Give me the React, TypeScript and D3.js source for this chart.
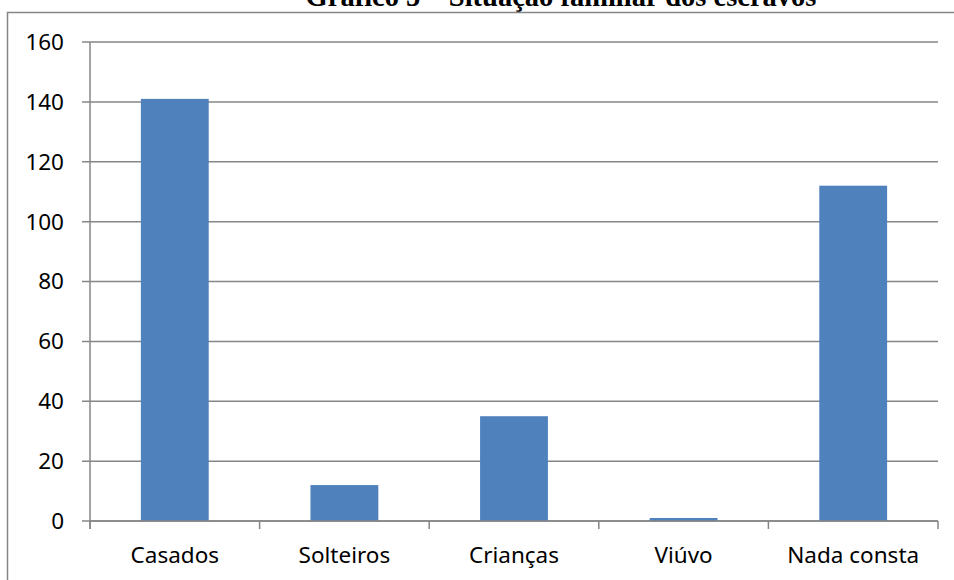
import React from "react";
import { scaleBand, scaleLinear } from "d3";

const categories = ["Casados", "Solteiros", "Crianças", "Viúvo", "Nada consta"];
const values = [141, 12, 35, 1, 112];
const yTicks = [0, 20, 40, 60, 80, 100, 120, 140, 160];
const title = "Gráfico  5 – Situação familiar dos escravos";

const W = 954;
const H = 580;
const margin = { left: 90, right: 16, top: 42, bottom: 59 };
const gray = "#868686";
const barColor = "#4F81BD";
const font = "'Noto Sans', 'Open Sans', sans-serif";

const App = () => {
  const x = scaleBand()
    .domain(categories)
    .range([margin.left, W - margin.right])
    .paddingInner(0.6)
    .paddingOuter(0.3);
  const y = scaleLinear().domain([0, 160]).range([H - margin.bottom, margin.top]);

  const step = x.step();
  const x0 = margin.left;
  const x1 = W - margin.right;
  const y0 = y(0);

  // boundaries between categories, for the x tick marks
  const bounds = categories.map((c) => (x(c) as number) - (step - x.bandwidth()) / 2);
  bounds.push(x1);

  return (
    <svg width={W} height={H} style={{ position: "absolute", left: 0, top: 0 }}>
      <rect x={0} y={0} width={W} height={H} fill="#fff" />
      {/* title is cropped at the top edge, as in the source */}
      <text
        x={561}
        y={5.5}
        textAnchor="middle"
        fontFamily="'Liberation Serif', 'Times New Roman', serif"
        fontWeight="bold"
        fontSize={28.5}
        fill="#000"
      >
        {title}
      </text>
      <rect x={7.5} y={12.5} width={W + 10} height={H} fill="none" stroke={gray} strokeWidth={1.5} />

      {/* grid */}
      {yTicks.map((t) => (
        <g key={t}>
          <line x1={x0 - 8} x2={x1} y1={y(t)} y2={y(t)} stroke={gray} strokeWidth={1.5} />
          <text
            x={64}
            y={y(t)}
            dy="0.35em"
            textAnchor="end"
            fontFamily={font}
            fontSize={22.5}
            fill="#000"
          >
            {t}
          </text>
        </g>
      ))}

      {/* bars */}
      {categories.map((c, i) => (
        <rect
          key={c}
          x={x(c)}
          y={y(values[i])}
          width={x.bandwidth()}
          height={y0 - y(values[i])}
          fill={barColor}
        />
      ))}

      {/* axes */}
      <line x1={x0} x2={x0} y1={y(160)} y2={y0 + 8} stroke={gray} strokeWidth={1.5} />
      <line x1={x0} x2={x1} y1={y0} y2={y0} stroke={gray} strokeWidth={1.5} />
      {bounds.map((b, i) => (
        <line key={i} x1={b} x2={b} y1={y0} y2={y0 + 8} stroke={gray} strokeWidth={1.5} />
      ))}
      {categories.map((c) => (
        <text
          key={c}
          x={(x(c) as number) + x.bandwidth() / 2}
          y={563}
          textAnchor="middle"
          fontFamily={font}
          fontSize={22.5}
          fill="#000"
        >
          {c}
        </text>
      ))}
    </svg>
  );
};

export default App;
